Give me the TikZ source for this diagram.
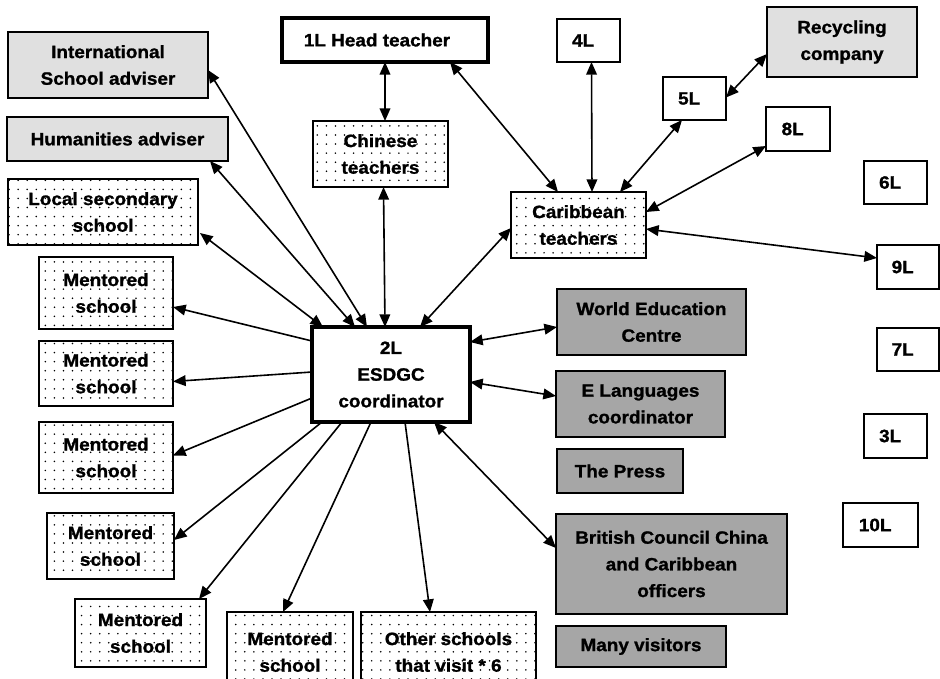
\documentclass[tikz,border=0pt]{standalone}
\usepackage{fontspec}
\setmainfont{Liberation Sans}[FakeStretch=1.06, BoldFeatures={FakeBold=1.2}]
\usetikzlibrary{arrows.meta,calc,patterns.meta}
\definecolor{lightbox}{HTML}{E0E0E0}
\definecolor{darkbox}{HTML}{A6A6A6}
\tikzset{
  sz/.style n args={2}{minimum width={#1*0.75pt},minimum height={#2*0.75pt}},
  basebox/.style={draw,line width=1.3pt,inner sep=0pt,outer sep=0pt,align=center},
  plainbox/.style={basebox},
  thickbox/.style={basebox,line width=2.6pt},
  lightgray/.style={basebox,fill=lightbox},
  darkgray/.style={basebox,fill=darkbox},
  dotbox/.style={basebox,pattern={Dots[distance=6.8pt,radius=0.65pt]}},
  link/.style={line width=1.2pt,-{Triangle[length=9.5pt,width=8pt]}},
  dlink/.style={line width=1.2pt,{Triangle[length=9.5pt,width=8pt]}-{Triangle[length=9.5pt,width=8pt]}}
}
\begin{document}
\begin{tikzpicture}[x=0.75pt,y=-0.75pt,
  font=\fontsize{13.4}{20}\selectfont\bfseries]
\useasboundingbox (0,0) rectangle (940,679);

% nodes
\node[lightgray,sz={200}{66}] (intl) at (108,65) {International\\School adviser};
\node[lightgray,sz={221}{44}] (hum) at (117.5,139) {Humanities adviser};
\node[dotbox,sz={190}{66}] (local) at (103,212) {Local secondary\\school};
\node[thickbox,sz={206}{44}] (head) at (385,40) {1L Head teacher\hspace*{12pt}};
\node[plainbox,sz={63}{43}] (n4L) at (588.5,40.5) {4L\hspace*{8pt}};
\node[dotbox,sz={135}{66}] (chinese) at (380.5,154) {Chinese\\teachers};
\node[dotbox,sz={135}{66}] (carib) at (578.5,225) {Caribbean\\teachers};
\node[lightgray,sz={150}{70}] (recyc) at (842,42) {Recycling\\company};
\node[plainbox,sz={63}{43}] (n5L) at (694.5,98.5) {5L\hspace*{8pt}};
\node[plainbox,sz={64}{44}] (n8L) at (798,129) {8L\hspace*{8pt}};
\node[plainbox,sz={63}{43}] (n6L) at (895.5,182.5) {6L\hspace*{8pt}};
\node[plainbox,sz={62}{44}] (n9L) at (908,267) {9L\hspace*{8pt}};
\node[plainbox,sz={62}{43}] (n7L) at (908,349.5) {7L\hspace*{8pt}};
\node[plainbox,sz={63}{44}] (n3L) at (895.5,436) {3L\hspace*{8pt}};
\node[plainbox,sz={75}{44}] (n10L) at (880.5,525) {10L\hspace*{8pt}};

\node[dotbox,sz={134}{72}] (m1) at (106,293) {Mentored\\school};
\node[dotbox,sz={134}{65}] (m2) at (106,373.5) {Mentored\\school};
\node[dotbox,sz={134}{71}] (m3) at (106,457.5) {Mentored\\school};
\node[dotbox,sz={127}{66}] (m4) at (110.5,546) {Mentored\\school};
\node[dotbox,sz={131}{68}] (m5) at (140.5,633) {Mentored\\school};
\node[dotbox,sz={126}{80}] (m6) at (290,652) {Mentored\\school};
\node[dotbox,sz={175}{80}] (other) at (448.5,652) {Other schools\\that visit * 6};

\node[thickbox,sz={158}{95}] (c) at (391,374.5) {2L\\ESDGC\\coordinator};
\node[darkgray,sz={189}{66}] (world) at (651.5,322) {World Education\\Centre};
\node[darkgray,sz={169}{66}] (elang) at (640.5,404) {E Languages\\coordinator};
\node[darkgray,sz={126}{44}] (press) at (620,471) {The Press};
\node[darkgray,sz={231}{100}] (british) at (671.5,564) {British Council China\\and Caribbean\\officers};
\node[darkgray,sz={170}{41}] (visitors) at (641,646.5) {Many visitors};

% connectors
\draw[dlink] ($(local.east)+(2,21)$) -- ($(c.north west)+(11,0)$);
\draw[dlink] ($(hum.south west)+(203,0)$) -- ($(c.north west)+(43,0)$);
\draw[dlink] ($(intl.east)+(0,5)$) -- ($(c.north west)+(55,0)$);
\draw[dlink] ($(chinese.south)+(3,0)$) -- ($(c.north west)+(73,0)$);
\draw[dlink] ($(carib.west)+(0,3)$) -- ($(c.north west)+(108,0)$);
\draw[dlink] (head.south) -- ($(chinese.north)+(4.5,0)$);
\draw[dlink] ($(head.south east)+(-38,0)$) -- ($(carib.north west)+(47,0)$);
\draw[dlink] ($(n4L.south)+(3,0)$) -- ($(carib.north)+(13.5,0)$);
\draw[dlink] ($(n5L.south west)+(19,0)$) -- ($(carib.north east)+(-26,0)$);
\draw[dlink] ($(recyc.west)+(0,12)$) -- ($(n5L.east)+(0,-1)$);
\draw[dlink] ($(n8L.west)+(0,17)$) -- ($(carib.east)+(0,-13)$);
\draw[dlink] ($(carib.east)+(0,4)$) -- ($(n9L.west)+(0,-9)$);

\draw[link] ($(c.north west)+(0,14)$) -- ($(m1.east)+(0,14)$);
\draw[link] ($(c.north west)+(0,45)$) -- ($(m2.east)+(0,8)$);
\draw[link] ($(c.north west)+(0,71)$) -- ($(m3.east)+(0,-2)$);
\draw[link] ($(c.south west)+(10,0)$) -- ($(m4.east)+(0,-6)$);
\draw[link] ($(c.south west)+(30,0)$) -- ($(m5.north east)+(-7,0)$);
\draw[link] ($(c.south west)+(59,0)$) -- ($(m6.north west)+(56,0)$);
\draw[link] ($(c.south west)+(93,0)$) -- ($(other.north west)+(69,0)$);

\draw[dlink] ($(c.south west)+(122,0)$) -- ($(british.west)+(0,-16)$);
\draw[dlink] ($(c.north east)+(0,15)$) -- ($(world.west)+(0,5)$);
\draw[dlink] ($(c.north east)+(0,55)$) -- ($(elang.west)+(0,-8)$);
\end{tikzpicture}
\end{document}
